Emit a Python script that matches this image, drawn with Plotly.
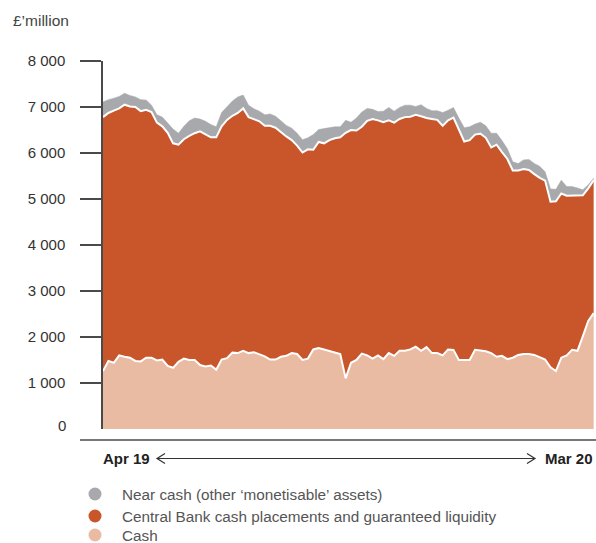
import pandas as pd
import plotly.graph_objects as go

# ---- data (£ million), sampled every 4 days from Apr 2019 to Mar 2020 ----
dates = pd.date_range("2019-04-01", periods=92, freq="4D")

cash = [1260, 1480, 1440, 1600, 1570, 1550, 1480, 1470, 1550, 1550,
        1490, 1510, 1370, 1330, 1460, 1530, 1500, 1500, 1390, 1360,
        1380, 1290, 1510, 1540, 1660, 1650, 1700, 1650, 1670, 1620,
        1580, 1510, 1510, 1570, 1590, 1650, 1630, 1500, 1530, 1730,
        1760, 1730, 1700, 1670, 1630, 1100, 1440, 1500, 1640, 1600,
        1530, 1600, 1520, 1650, 1590, 1700, 1700, 1730, 1790, 1700,
        1780, 1650, 1650, 1600, 1730, 1720, 1500, 1500, 1500, 1720,
        1710, 1690, 1650, 1570, 1590, 1520, 1550, 1610, 1630, 1630,
        1610, 1560, 1510, 1340, 1260, 1550, 1600, 1720, 1700, 2020,
        2350, 2520]

central_bank = [5520, 5390, 5480, 5370, 5480, 5460, 5520, 5440, 5390, 5340,
                5170, 5070, 5070, 4880, 4720, 4770, 4870, 4930, 5080, 5040,
                4960, 5050, 5070, 5180, 5150, 5220, 5270, 5130, 5060, 5070,
                5010, 5080, 5040, 4880, 4770, 4630, 4530, 4510, 4550, 4340,
                4480, 4480, 4580, 4650, 4710, 5340, 5060, 4990, 4930, 5100,
                5210, 5110, 5150, 5060, 5070, 5040, 5080, 5060, 5040, 5100,
                4980, 5090, 5070, 4990, 4980, 5050, 5010, 4750, 4780, 4680,
                4710, 4640, 4470, 4610, 4430, 4350, 4070, 4010, 4020, 4000,
                3930, 3900, 3890, 3600, 3690, 3570, 3470, 3350, 3370, 3060,
                2880, 2890]

near_cash = [330, 290, 270, 260, 250, 240, 220, 250, 210, 150,
             170, 200, 210, 310, 250, 280, 330, 330, 270, 290,
             280, 230, 300, 290, 320, 350, 290, 260, 230, 220,
             240, 260, 250, 250, 240, 260, 270, 280, 250, 330,
             270, 320, 270, 250, 230, 270, 170, 270, 320, 270,
             210, 190, 240, 280, 250, 250, 260, 250, 180, 250,
             210, 180, 200, 290, 220, 220, 250, 300, 290, 230,
             250, 260, 310, 250, 250, 220, 190, 150, 200, 230,
             230, 250, 190, 280, 260, 290, 200, 200, 170, 120,
             80, 40]

y_ticks = [1000, 2000, 3000, 4000, 5000, 6000, 7000, 8000]
y_tick_text = ["1 000", "2 000", "3 000", "4 000", "5 000", "6 000", "7 000", "8 000"]

series_names = ["Near cash (other \u2018monetisable\u2019 assets)",
                "Central Bank cash placements and guaranteed liquidity",
                "Cash"]
colors = ["#A7A9AC", "#C8562A", "#E9BBA2"]

# ---- figure ----
W, H = 596, 543
ML, MR, MT, MB = 103, 1, 61, 114
PW, PH = W - ML - MR, H - MT - MB


def px(x):
    return (x - ML) / PW


def py(y):
    return (H - MB - y) / PH


FONT = "Liberation Sans, Arial, Helvetica, sans-serif"

fig = go.Figure()
fig.add_trace(go.Scatter(x=dates, y=cash, stackgroup="s", mode="lines",
                         line=dict(color="white", width=2), fillcolor=colors[2],
                         name=series_names[2]))
fig.add_trace(go.Scatter(x=dates, y=central_bank, stackgroup="s", mode="lines",
                         line=dict(color="white", width=2), fillcolor=colors[1],
                         name=series_names[1]))
fig.add_trace(go.Scatter(x=dates, y=near_cash, stackgroup="s", mode="lines",
                         line=dict(color=colors[0], width=0.5), fillcolor=colors[0],
                         name=series_names[0]))

shapes = []
annotations = []
axis_col = "#4a4a4a"

# x-axis base line
shapes.append(dict(type="line", xref="paper", yref="paper",
                   x0=px(80), x1=px(596), y0=py(440), y1=py(440),
                   line=dict(color=axis_col, width=1.5)))
# double arrow
ay = 458.5
shapes.append(dict(type="line", xref="paper", yref="paper",
                   x0=px(157), x1=px(535), y0=py(ay), y1=py(ay),
                   line=dict(color="#333", width=1.2)))
shapes.append(dict(type="path", xref="paper", yref="paper",
                   path=f"M {px(165)},{py(ay-5)} L {px(157)},{py(ay)} L {px(165)},{py(ay+5)}",
                   line=dict(color="#333", width=1.2)))
shapes.append(dict(type="path", xref="paper", yref="paper",
                   path=f"M {px(527)},{py(ay-5)} L {px(535)},{py(ay)} L {px(527)},{py(ay+5)}",
                   line=dict(color="#333", width=1.2)))

annotations.append(dict(text="<b>Apr 19</b>", xref="paper", yref="paper",
                        x=px(101), y=py(ay), xanchor="left", yanchor="middle",
                        showarrow=False, font=dict(family=FONT, size=15, color="#222")))
annotations.append(dict(text="<b>Mar 20</b>", xref="paper", yref="paper",
                        x=px(595), y=py(ay), xanchor="right", yanchor="middle",
                        showarrow=False, font=dict(family=FONT, size=15, color="#222")))

# unit label
annotations.append(dict(text="\u00a3\u2019million", xref="paper", yref="paper",
                        x=px(11), y=py(21), xanchor="left", yanchor="middle",
                        showarrow=False, font=dict(family=FONT, size=15.5, color="#444")))
# zero label
annotations.append(dict(text="0", xref="paper", yref="y",
                        x=px(68), y=0, xanchor="right", yanchor="middle", yshift=4,
                        showarrow=False, font=dict(family=FONT, size=15, color="#333")))

# legend
leg_y = [494, 516, 535]
for name, col, yy in zip(series_names, colors, leg_y):
    r = 6.5
    shapes.append(dict(type="circle", xref="paper", yref="paper",
                       x0=px(95 - r), x1=px(95 + r), y0=py(yy - r), y1=py(yy + r),
                       fillcolor=col, line=dict(width=0)))
    annotations.append(dict(text=name, xref="paper", yref="paper",
                            x=px(120), y=py(yy), xanchor="left", yanchor="middle",
                            showarrow=False, font=dict(family=FONT, size=15.3, color="#555")))

fig.update_layout(
    width=W, height=H,
    margin=dict(l=ML, r=MR, t=MT, b=MB, pad=0),
    paper_bgcolor="white", plot_bgcolor="white",
    showlegend=False,
    shapes=shapes, annotations=annotations,
    xaxis=dict(visible=False, range=[pd.Timestamp("2019-04-01"), pd.Timestamp("2020-03-31")],
               showgrid=False, zeroline=False),
    yaxis=dict(range=[0, 8000], tickvals=y_ticks, ticktext=y_tick_text,
               ticks="outside", ticklen=21, tickwidth=1.5, tickcolor=axis_col,
               showline=True, linecolor=axis_col, linewidth=1.5,
               showgrid=False, zeroline=False, ticklabelstandoff=12,
               tickfont=dict(family=FONT, size=15, color="#333")),
)

fig.write_html("out.html", config={"displayModeBar": False},
               post_script="document.body.style.margin='0';document.body.style.overflow='hidden';")
